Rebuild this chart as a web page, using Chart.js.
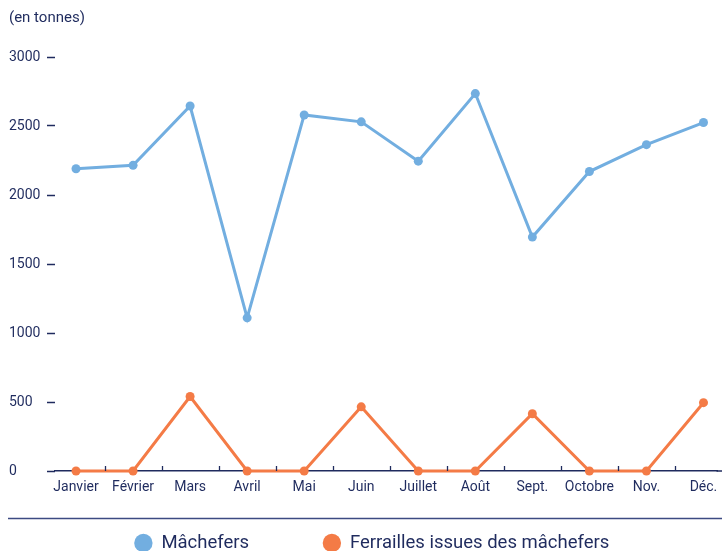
<!DOCTYPE html>
<html>
<head>
<meta charset="utf-8">
<script src="https://cdn.jsdelivr.net/npm/chart.js@4.4.0/dist/chart.umd.min.js"></script>
<style>
  html, body { margin: 0; padding: 0; background: #fff; overflow: hidden; }
  #wrap { width: 722px; height: 551px; position: relative; overflow: hidden; }
</style>
</head>
<body>
<div id="wrap"><canvas id="myChart" width="722" height="604"></canvas></div>
<script>
const months = ['Janvier', 'Février', 'Mars', 'Avril', 'Mai', 'Juin', 'Juillet', 'Août', 'Sept.', 'Octobre', 'Nov.', 'Déc.'];
const machefers = [2190, 2215, 2645, 1110, 2580, 2530, 2245, 2735, 1695, 2170, 2365, 2525];
const ferrailles = [0, 0, 540, 0, 0, 465, 0, 0, 415, 0, 0, 495];
const yTicks = [0, 500, 1000, 1500, 2000, 2500, 3000];
const unitLabel = '(en tonnes)';

const navy = '#1f2b5e';
const blue = '#72aee0';
const orange = '#f47b46';
const fontFam = 'Roboto, "DejaVu Sans", sans-serif';
const legendPad = 74;
const legendFont = 18.5;

// remonter la légende sous la ligne de séparation
const legendShift = {
    id: 'legendShift',
    afterLayout(chart) {
        const lg = chart.legend;
        const target = chart.chartArea.bottom + 72 - legendPad - legendFont / 2;
        const dy = lg.top - target;
        lg.top -= dy;
        lg.bottom -= dy;
    }
};

// petits traits entre les mois + ligne de séparation + unité
const decor = {
    id: 'decor',
    afterDraw(chart) {
        const ctx = chart.ctx;
        const xs = chart.scales.x;
        const area = chart.chartArea;
        ctx.save();
        ctx.strokeStyle = navy;
        ctx.lineWidth = 1.3;
        for (let i = 0; i < months.length - 1; i++) {
            const px = Math.round(xs.getPixelForValue(i + 0.5)) + 0.5;
            ctx.beginPath();
            ctx.moveTo(px, area.bottom);
            ctx.lineTo(px, area.bottom - 5);
            ctx.stroke();
        }
        ctx.lineWidth = 1.5;
        ctx.beginPath();
        ctx.moveTo(area.right - 1, area.bottom);
        ctx.lineTo(chart.width, area.bottom);
        ctx.stroke();
        const ly = area.bottom + 47.5;
        ctx.strokeStyle = '#3c4a82';
        ctx.beginPath();
        ctx.moveTo(8, ly);
        ctx.lineTo(chart.width, ly);
        ctx.stroke();
        ctx.fillStyle = navy;
        ctx.font = '15px ' + fontFam;
        ctx.textBaseline = 'middle';
        ctx.textAlign = 'left';
        ctx.fillText(unitLabel, 9, 18);
        ctx.restore();
    }
};

const canvas = document.getElementById('myChart');
new Chart(canvas.getContext('2d'), {
    type: 'line',
    data: {
        datasets: [
            {
                label: 'Mâchefers',
                data: machefers.map((v, i) => ({ x: i, y: v })),
                borderColor: blue,
                backgroundColor: blue,
                borderWidth: 3,
                pointRadius: 4.5,
                pointBorderWidth: 0,
                pointHoverRadius: 4.5,
                clip: false
            },
            {
                label: 'Ferrailles issues des mâchefers',
                data: ferrailles.map((v, i) => ({ x: i, y: v })),
                borderColor: orange,
                backgroundColor: orange,
                borderWidth: 3,
                pointRadius: 4.5,
                pointBorderWidth: 0,
                pointHoverRadius: 4.5,
                clip: false
            }
        ]
    },
    options: {
        responsive: false,
        animation: false,
        layout: { padding: { left: 9, right: -13, top: 57, bottom: 0 } },
        scales: {
            x: {
                type: 'linear',
                min: -21 / 57,
                max: 11 + 14 / 57,
                grid: { display: false, drawTicks: false },
                border: { display: true, color: navy, width: 1.5 },
                afterBuildTicks: scale => {
                    scale.ticks = months.map((m, i) => ({ value: i }));
                },
                ticks: {
                    autoSkip: false,
                    maxRotation: 0,
                    padding: 8,
                    color: navy,
                    font: { family: fontFam, size: 14 },
                    callback: v => months[v]
                },
                afterFit: scale => {
                    scale.height = 30.5;
                    scale.paddingLeft = 0;
                    scale.paddingRight = 0;
                }
            },
            y: {
                min: 0,
                max: 3000,
                afterBuildTicks: scale => {
                    scale.ticks = yTicks.map(v => ({ value: v }));
                },
                grid: {
                    drawOnChartArea: false,
                    drawTicks: true,
                    tickLength: 8,
                    tickWidth: 1.5,
                    tickColor: navy
                },
                border: { display: false },
                ticks: {
                    crossAlign: 'far',
                    padding: 7,
                    color: navy,
                    font: { family: fontFam, size: 14 },
                    callback: v => String(v)
                },
                afterFit: scale => { scale.width = 46; }
            }
        },
        plugins: {
            legend: {
                position: 'bottom',
                labels: {
                    usePointStyle: true,
                    pointStyle: 'circle',
                    boxWidth: 17.5,
                    boxHeight: 13,
                    padding: legendPad,
                    color: navy,
                    font: { family: fontFam, size: legendFont }
                }
            },
            tooltip: { enabled: false }
        }
    },
    plugins: [legendShift, decor]
});
</script>
</body>
</html>
